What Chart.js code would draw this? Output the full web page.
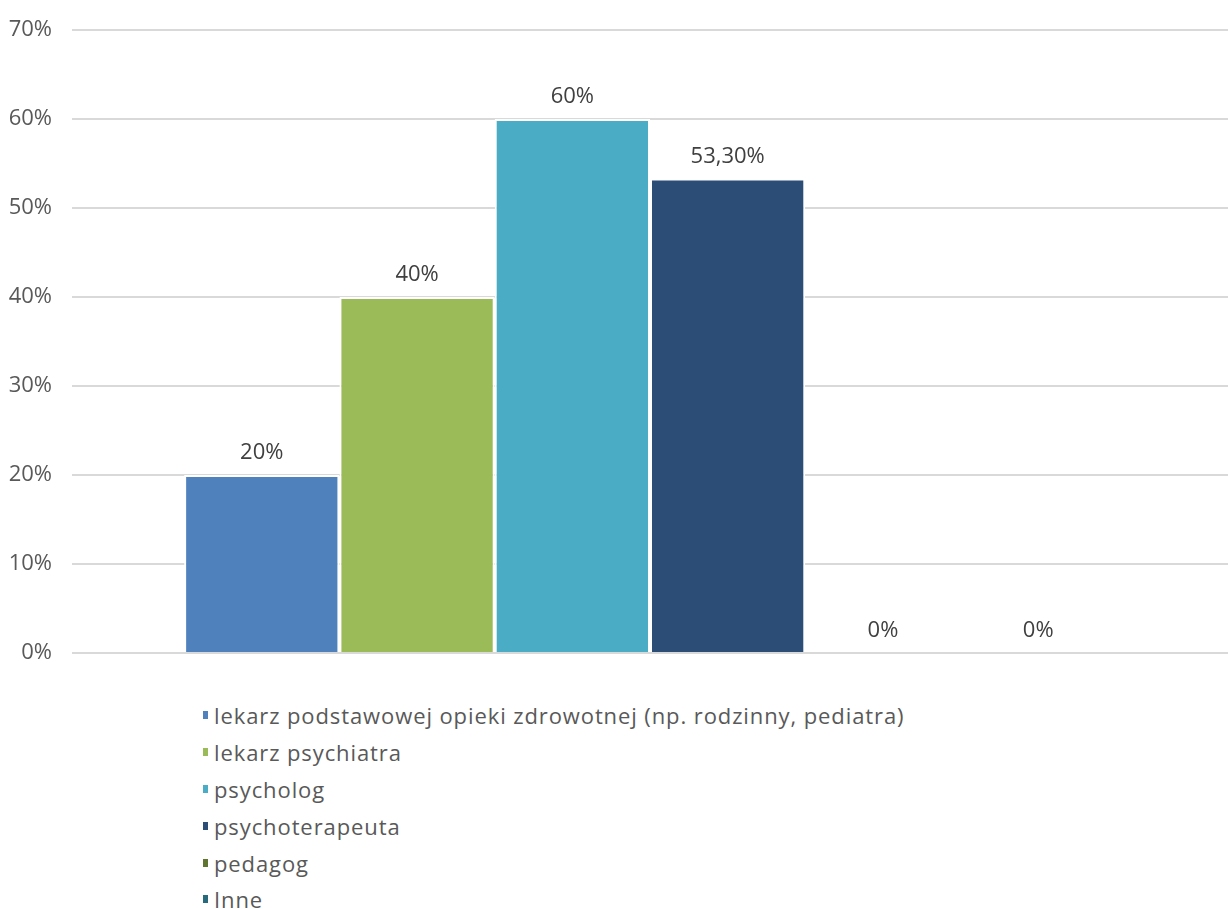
<!DOCTYPE html>
<html>
<head>
<meta charset="utf-8">
<script src="https://cdn.jsdelivr.net/npm/chart.js@4"></script>
<style>
  body { margin: 0; background: #fff; font-family: "Open Sans", sans-serif; overflow: hidden; }
  #wrap { position: relative; width: 1228px; height: 909px; }
  #chartBox { position: absolute; left: 0; top: 0; width: 1228px; height: 683px; }
  #legend { position: absolute; left: 203px; top: 697px; margin: 0; padding: 0; list-style: none; }
  #legend li { height: 36.8px; display: flex; align-items: center; color: #595959; font-size: 22px; letter-spacing: 0.9px; line-height: 1; }
  #legend span.box { display: inline-block; width: 5px; height: 8px; margin-right: 6px; }
</style>
</head>
<body>
<div id="wrap">
  <div id="chartBox"><canvas id="pomocChart"></canvas></div>
  <ul id="legend"></ul>
</div>
<script>
var seriesNames = [
  "lekarz podstawowej opieki zdrowotnej (np. rodzinny, pediatra)",
  "lekarz psychiatra",
  "psycholog",
  "psychoterapeuta",
  "pedagog",
  "Inne"
];
var seriesValues = [20, 40, 60, 53.3, 0, 0];
var valueLabels = ["20%", "40%", "60%", "53,30%", "0%", "0%"];
var seriesColors = ["#4F81BD", "#9BBB59", "#4BACC6", "#2C4D75", "#5F7530", "#276A7C"];
var yTicks = [0, 10, 20, 30, 40, 50, 60, 70];

document.addEventListener("DOMContentLoaded", function () {
  var datasets = seriesNames.map(function (name, i) {
    return {
      label: name,
      data: [seriesValues[i]],
      backgroundColor: seriesColors[i],
      borderColor: "#ffffff",
      borderWidth: { left: 2, right: 2, top: 2, bottom: 0 },
      borderSkipped: false,
      barPercentage: 1,
      categoryPercentage: 0.806
    };
  });

  var valueLabelPlugin = {
    id: "valueLabels",
    afterDatasetsDraw: function (chart) {
      var ctx = chart.ctx;
      ctx.save();
      ctx.font = "22px 'Open Sans'";
      ctx.fillStyle = "#404040";
      ctx.textAlign = "center";
      ctx.textBaseline = "bottom";
      chart.data.datasets.forEach(function (ds, i) {
        var bar = chart.getDatasetMeta(i).data[0];
        ctx.fillText(valueLabels[i], bar.x, bar.y - 11);
      });
      ctx.restore();
    }
  };

  var ctx = document.getElementById("pomocChart").getContext("2d");
  var pomocChart = new Chart(ctx, {
    type: "bar",
    data: { labels: [""], datasets: datasets },
    plugins: [valueLabelPlugin],
    options: {
      responsive: true,
      maintainAspectRatio: false,
      animation: false,
      layout: { padding: { left: 0, right: 0, top: 10, bottom: 5 } },
      plugins: {
        legend: { display: false },
        tooltip: { enabled: false },
        title: { display: false }
      },
      scales: {
        x: {
          grid: { display: false },
          border: { display: false },
          ticks: { display: false }
        },
        y: {
          min: 0,
          max: 70,
          afterBuildTicks: function (axis) {
            axis.ticks = yTicks.map(function (v) { return { value: v }; });
          },
          afterFit: function (axis) {
            axis.width = 72;
          },
          grid: { color: "#D9D9D9", lineWidth: 2, drawTicks: false },
          border: { display: false },
          ticks: {
            padding: 20,
            color: "#595959",
            font: { family: "Open Sans", size: 22, lineHeight: 0.9 },
            callback: function (v) { return v + "%"; }
          }
        }
      }
    }
  });

  var legendEl = document.getElementById("legend");
  pomocChart.data.datasets.forEach(function (ds) {
    var li = document.createElement("li");
    var box = document.createElement("span");
    box.className = "box";
    box.style.background = ds.backgroundColor;
    li.appendChild(box);
    li.appendChild(document.createTextNode(ds.label));
    legendEl.appendChild(li);
  });
});
</script>
</body>
</html>
